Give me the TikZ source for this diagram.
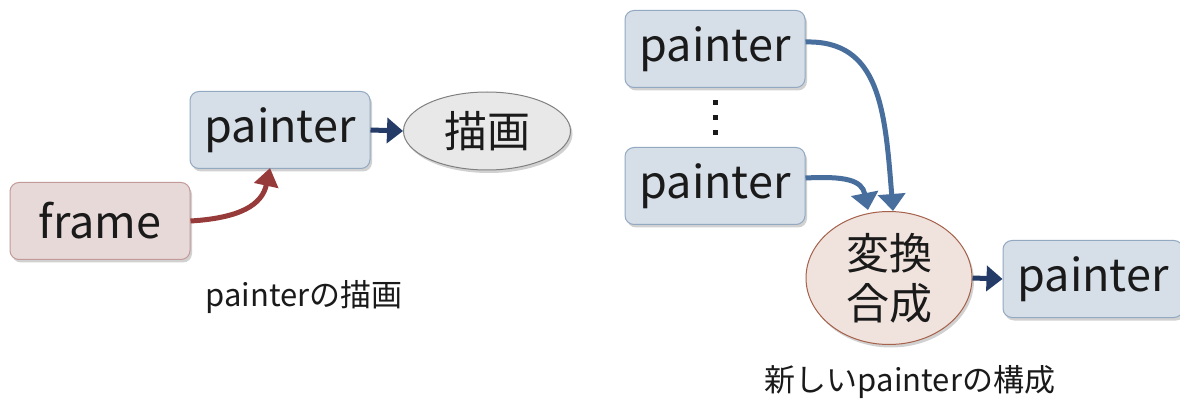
\documentclass[tikz,border=0pt]{standalone}
\usepackage{fontspec}
\setmainfont{Noto Sans CJK JP}
\usetikzlibrary{shapes.geometric,arrows.meta,shadows}
\definecolor{boxblue}{HTML}{D6DEE7}
\definecolor{boxblueline}{HTML}{93A9C2}
\definecolor{boxpink}{HTML}{E8D9D9}
\definecolor{boxpinkline}{HTML}{C29A9A}
\definecolor{ellgray}{HTML}{E8E8E8}
\definecolor{ellgrayline}{HTML}{808080}
\definecolor{ellpink}{HTML}{F0E2DC}
\definecolor{ellpinkline}{HTML}{A5614B}
\definecolor{navy}{HTML}{243B68}
\definecolor{steel}{HTML}{476E9C}
\definecolor{darkred}{HTML}{973A3A}
\definecolor{txt}{HTML}{1A1A1A}
\tikzset{
  shd/.style={drop shadow={shadow xshift=2pt,shadow yshift=-3pt,opacity=0.18,fill=black}},
  pbox/.style={rectangle,rounded corners=9pt,draw=boxblueline,line width=1pt,fill=boxblue,
    minimum width=180pt,minimum height=77pt,inner sep=0pt,font=\fontsize{45}{50}\selectfont,text=txt,shd},
  fbox/.style={pbox,draw=boxpinkline,fill=boxpink},
  gell/.style={ellipse,draw=ellgrayline,line width=1pt,fill=ellgray,minimum width=167pt,
    minimum height=78pt,inner sep=0pt,font=\fontsize{43}{48}\selectfont,text=txt,shd},
  pell/.style={ellipse,draw=ellpinkline,line width=1pt,fill=ellpink,minimum width=166pt,
    minimum height=133pt,inner sep=0pt,align=center,font=\fontsize{43}{50}\selectfont,text=txt,shd},
  capt/.style={font=\fontsize{31}{36}\selectfont,text=txt,inner sep=0pt},
  navyarr/.style={draw=navy,line width=5pt,-{Triangle[length=16pt,width=25pt]}},
  steelarr/.style={draw=steel,line width=5pt,-{Triangle[length=17pt,width=27pt]}},
  redarr/.style={draw=darkred,line width=5pt,-{Triangle[length=18pt,width=24pt]}},
  dotbox/.style={rectangle,fill=txt,minimum width=5pt,minimum height=5pt,inner sep=0pt},
}
\begin{document}
\begin{tikzpicture}[x=1pt,y=-1pt]
\useasboundingbox[fill=white] (0,0) rectangle (1180,403);
% left part
\node[fbox] (fr) at (100,221) {frame};
\node[pbox] (pl) at (280,130) {painter};
\node[gell] (ds) at (487,131) {描画};
\draw[navyarr] (pl.east) -- (ds.west);
\draw[redarr] (fr.east) .. controls (240,218) and (262,205) .. (270,168);
\node[capt] (cap1) at (304,297) {painterの描画};
% right part
\node[pbox] (p1) at (715,49) {painter};
\node[dotbox] (d1) at (715,103) {};
\node[dotbox] (d2) at (715,118) {};
\node[dotbox] (d3) at (715,133) {};
\node[pbox] (p2) at (715,186) {painter};
\node[pell] (cmp) at (889,278) {変換\\合成};
\node[pbox] (pout) at (1093,279) {painter};
\coordinate (t1) at (893,211);
\coordinate (t2) at (868,210);
\draw[steelarr] (p1.east |- 0,42) .. controls (880,40) and (885,110) .. (t1);
\draw[steelarr] (p2.east |- 0,178) .. controls (845,176) and (862,180) .. (t2);
\draw[navyarr] (cmp.east) -- (pout.west);
\node[capt] (cap2) at (910,382) {新しいpainterの構成};
\end{tikzpicture}
\end{document}
